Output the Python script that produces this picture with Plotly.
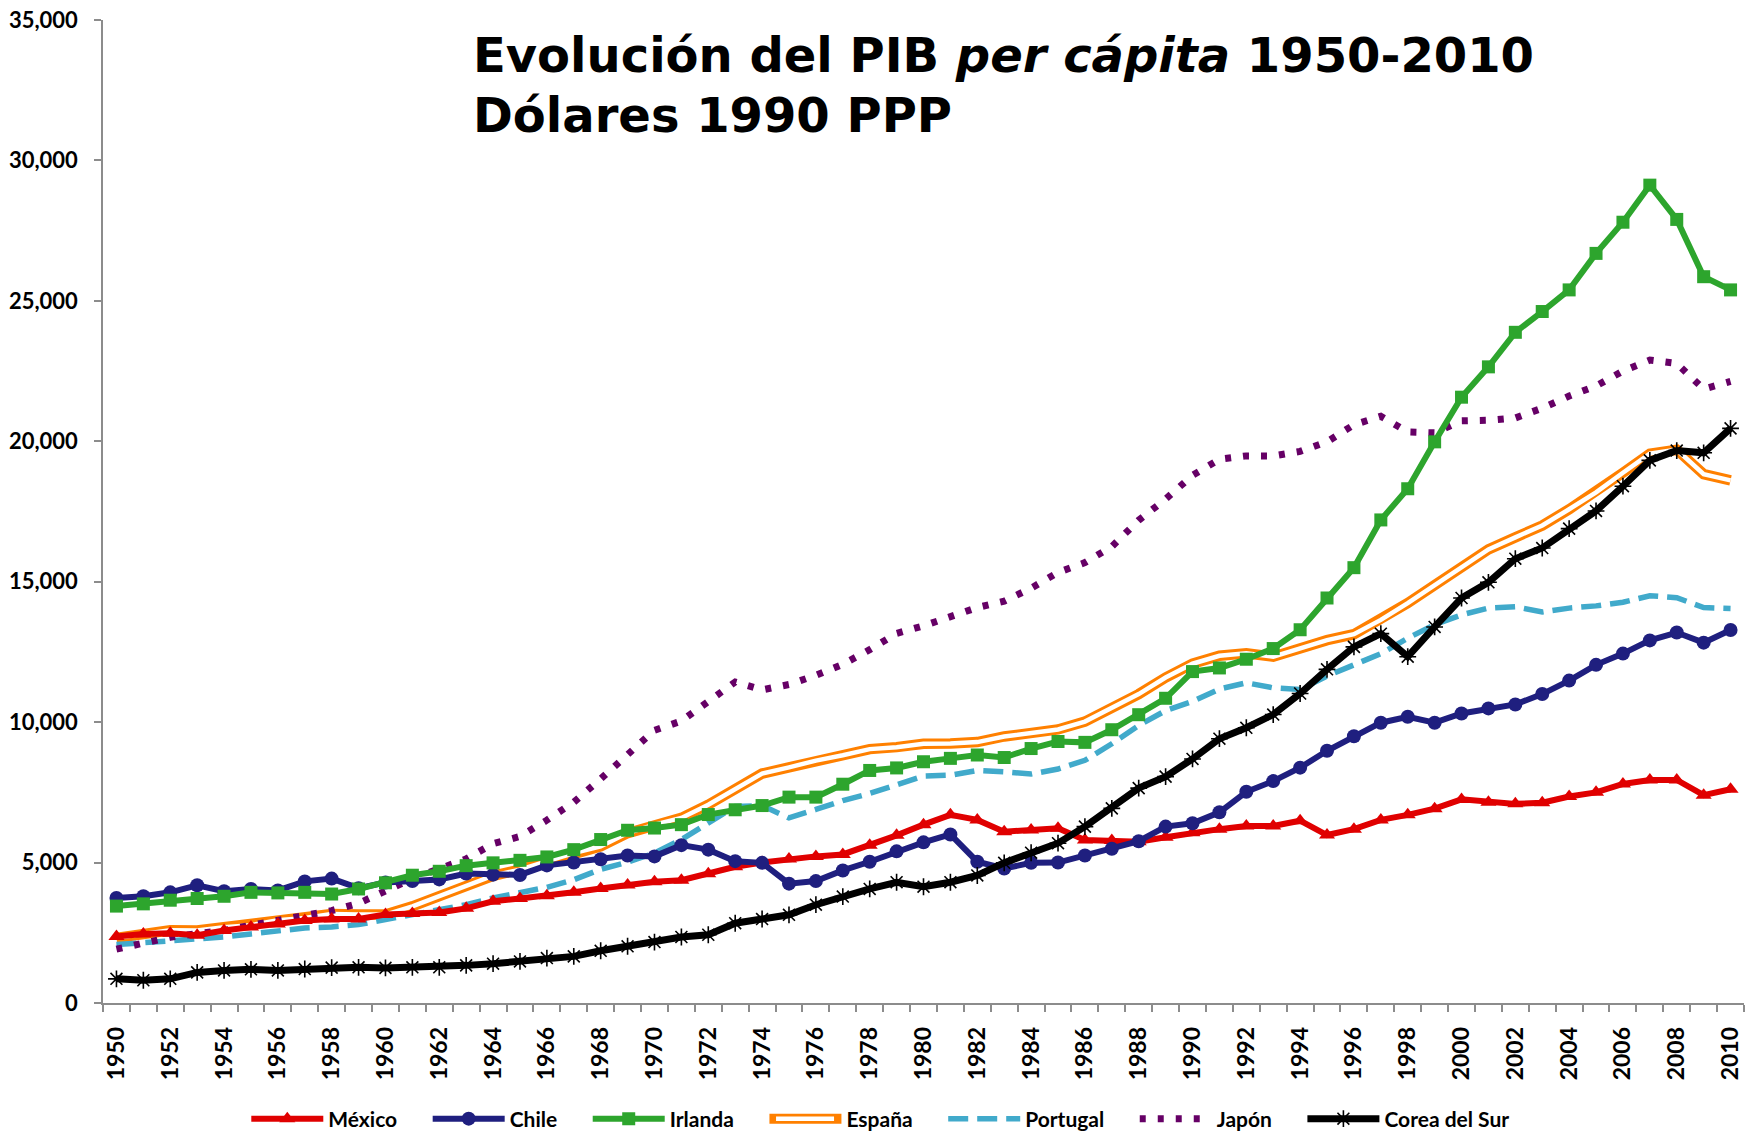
import plotly.graph_objects as go

years = list(range(1950, 2011))

mexico = [2365, 2460, 2480, 2410, 2580, 2710, 2810, 2940, 2990, 2990,
          3150, 3190, 3220, 3370, 3620, 3720, 3820, 3940, 4080, 4200,
          4320, 4370, 4600, 4850, 5000, 5130, 5220, 5290, 5620, 5970,
          6350, 6700, 6520, 6100, 6160, 6220, 5800, 5790, 5740, 5900,
          6060, 6190, 6300, 6300, 6490, 5980, 6190, 6520, 6700, 6920,
          7250, 7150, 7090, 7130, 7350, 7500, 7800, 7940, 7940, 7400, 7610]

chile = [3740, 3800, 3940, 4190, 3980, 4060, 4010, 4330, 4430, 4090,
         4290, 4340, 4400, 4610, 4570, 4560, 4900, 5000, 5120, 5250,
         5220, 5620, 5460, 5050, 4990, 4250, 4340, 4720, 5030, 5400,
         5720, 6000, 5030, 4790, 4990, 5000, 5250, 5490, 5760, 6280,
         6400, 6790, 7520, 7900, 8380, 8980, 9500, 9980, 10190, 9980,
         10310, 10490, 10630, 11000, 11480, 12040, 12440, 12910, 13190, 12830, 13280]

irlanda = [3450, 3530, 3660, 3720, 3800, 3940, 3920, 3940, 3880, 4060,
           4280, 4550, 4690, 4890, 4990, 5080, 5200, 5460, 5820, 6150,
           6230, 6350, 6710, 6880, 7030, 7330, 7330, 7790, 8280, 8370,
           8590, 8710, 8830, 8740, 9060, 9310, 9280, 9730, 10265, 10850,
           11800, 11930, 12240, 12620, 13290, 14420, 15500, 17200, 18310, 19980,
           21570, 22650, 23880, 24620, 25390, 26690, 27800, 29120, 27900, 25860, 25390]

espana = [2320, 2440, 2590, 2580, 2700, 2770, 2950, 3030, 3170, 3150,
          3150, 3440, 3800, 4150, 4530, 4750, 5040, 5340, 5580, 6050,
          6350, 6590, 7060, 7600, 8170, 8390, 8630, 8820, 9040, 9110,
          9230, 9240, 9290, 9490, 9610, 9740, 10020, 10500, 11000, 11590,
          12080, 12365, 12450, 12330, 12640, 12920, 13130, 13640, 14240, 14880,
          15540, 16150, 16580, 17000, 17580, 18180, 18880, 19560, 19700, 18830, 18610]

portugal = [2080, 2140, 2220, 2260, 2350, 2460, 2560, 2670, 2710, 2790,
            2970, 3150, 3330, 3500, 3740, 3920, 4120, 4390, 4760, 5010,
            5340, 5820, 6430, 7000, 7030, 6590, 6890, 7205, 7460, 7780,
            8080, 8110, 8280, 8230, 8150, 8330, 8640, 9230, 9880, 10410,
            10740, 11180, 11400, 11220, 11160, 11640, 12040, 12440, 12990, 13470,
            13820, 14060, 14110, 13920, 14060, 14140, 14270, 14500, 14430, 14080, 14050]

japon = [1920, 2130, 2340, 2470, 2580, 2770, 2950, 3140, 3290, 3550,
         3990, 4430, 4780, 5130, 5670, 5930, 6510, 7150, 7980, 8870,
         9710, 10040, 10730, 11430, 11150, 11340, 11670, 12060, 12580, 13160,
         13430, 13750, 14080, 14310, 14770, 15330, 15680, 16250, 17190, 17940,
         18790, 19360, 19480, 19480, 19640, 19980, 20590, 20890, 20330, 20300,
         20730, 20750, 20830, 21180, 21610, 21970, 22500, 22890, 22770, 21860, 22130]

corea = [860, 810, 860, 1090, 1160, 1200, 1160, 1210, 1260, 1270,
         1250, 1270, 1270, 1340, 1400, 1480, 1600, 1660, 1860, 2020,
         2170, 2350, 2430, 2840, 2990, 3140, 3500, 3790, 4060, 4300,
         4140, 4300, 4540, 4990, 5350, 5690, 6280, 6930, 7650, 8060,
         8690, 9410, 9800, 10270, 11020, 11880, 12680, 13150, 12330, 13390,
         14420, 14980, 15820, 16200, 16890, 17520, 18400, 19320, 19670, 19590, 20460]

x_label_vals = [y for y in years if y % 2 == 0]
x_labels = [str(y) for y in x_label_vals]
y_ticks = [0, 5000, 10000, 15000, 20000, 25000, 30000, 35000]

AXIS_GRAY = "#8C8C8C"
FONT_FAMILY = "Lato, 'Open Sans', sans-serif"
PAD = "\u00a0" * 5  # spacing between legend entries
LEGEND_FONT = dict(family=FONT_FAMILY, size=21, color="black", weight="bold")

fig = go.Figure()

# España (double line: orange outline with white core), drawn first
fig.add_trace(go.Scatter(x=years, y=espana, mode="lines", name="España" + PAD,
                         line=dict(color="#FF8000", width=10.5), legendrank=4))
# white core; its legend sample (in a second, overlaid legend) hollows the orange sample
fig.add_trace(go.Scatter(x=years, y=espana, mode="lines", name="\u00a0",
                         line=dict(color="white", width=4.5), legend="legend2",
                         hoverinfo="skip"))

fig.add_trace(go.Scatter(x=years, y=portugal, mode="lines", name="Portugal" + PAD,
                         line=dict(color="#41AACB", width=5.5, dash="20px,9px"),
                         legendrank=5))
fig.add_trace(go.Scatter(x=years, y=japon, mode="lines", name="Japón" + PAD,
                         line=dict(color="#660066", width=7, dash="6px,12px"),
                         legendrank=6))
fig.add_trace(go.Scatter(x=years, y=mexico, mode="lines+markers", name="México" + PAD,
                         line=dict(color="#E00000", width=6),
                         marker=dict(symbol="triangle-up", size=14, color="#E00000"),
                         legendrank=1))
fig.add_trace(go.Scatter(x=years, y=chile, mode="lines+markers", name="Chile" + PAD,
                         line=dict(color="#1F1F7F", width=6),
                         marker=dict(symbol="circle", size=14, color="#1F1F7F"),
                         legendrank=2))
fig.add_trace(go.Scatter(x=years, y=irlanda, mode="lines+markers", name="Irlanda" + PAD,
                         line=dict(color="#2DA52D", width=6),
                         marker=dict(symbol="square", size=13, color="#2DA52D"),
                         legendrank=3))
fig.add_trace(go.Scatter(x=years, y=corea, mode="lines+markers", name="Corea del Sur",
                         line=dict(color="black", width=7),
                         marker=dict(symbol="asterisk-open", size=14,
                                     line=dict(color="black", width=1.6)),
                         legendrank=7))

fig.update_layout(
    width=1748, height=1135,
    margin=dict(l=103, r=4, t=20, b=132, autoexpand=False),
    paper_bgcolor="white", plot_bgcolor="white",
    showlegend=True,
    legend=dict(orientation="h", xref="container", yref="container",
                x=0.1409, xanchor="left", y=0.0141, yanchor="middle",
                font=LEGEND_FONT, itemwidth=72, traceorder="normal",
                bgcolor="rgba(0,0,0,0)"),
    legend2=dict(orientation="h", xref="container", yref="container",
                 x=0.4411, xanchor="left", y=0.0141, yanchor="middle",
                 font=LEGEND_FONT, itemwidth=58, bgcolor="rgba(0,0,0,0)",
                 itemclick=False, itemdoubleclick=False),
    xaxis=dict(range=[1949.5, 2010.5], tickmode="array", tickvals=x_label_vals,
               ticktext=x_labels, tickangle=-90, ticks="", showgrid=False,
               showline=True, linecolor=AXIS_GRAY, linewidth=1.5, zeroline=False,
               automargin=False,
               tickfont=dict(family=FONT_FAMILY, size=23, color="black", weight="bold"),
               ticklabelstandoff=13,
               minor=dict(tickmode="array", tickvals=[y - 0.5 for y in years] + [2010.5],
                          ticks="outside", ticklen=7, tickcolor=AXIS_GRAY, tickwidth=1.5,
                          showgrid=False)),
    yaxis=dict(range=[0, 35000], tickmode="array", tickvals=y_ticks,
               tickformat=",d", ticks="outside", ticklen=7, tickcolor=AXIS_GRAY,
               tickwidth=1.5, showgrid=False, showline=True, linecolor=AXIS_GRAY,
               linewidth=1.5, zeroline=False, automargin=False,
               tickfont=dict(family=FONT_FAMILY, size=22, color="black", weight="bold"),
               ticklabelstandoff=12),
)

TITLE_FONT = dict(family="DejaVu Sans, Verdana, sans-serif", size=48, color="black")
fig.add_annotation(text="<b>Evolución del PIB <i>per cápita</i> 1950-2010</b>",
                   xref="paper", yref="paper", x=0.2243, y=0.9644,
                   xanchor="left", yanchor="middle", showarrow=False, font=TITLE_FONT)
fig.add_annotation(text="<b>Dólares 1990 PPP</b>",
                   xref="paper", yref="paper", x=0.2243, y=0.9036,
                   xanchor="left", yanchor="middle", showarrow=False, font=TITLE_FONT)

fig.write_html("out.html", config={"displayModeBar": False},
               post_script="document.body.style.margin='0';document.body.style.padding='0';")
